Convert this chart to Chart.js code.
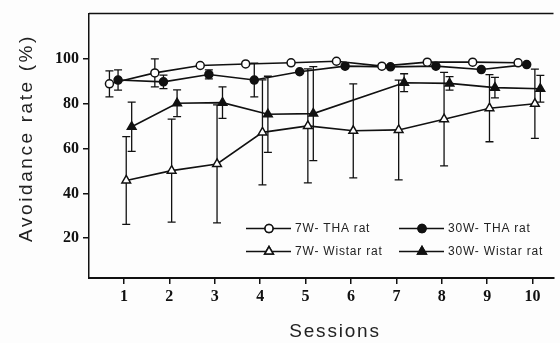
<!DOCTYPE html>
<html>
<head>
<meta charset="utf-8">
<script src="https://cdn.jsdelivr.net/npm/chart.js@4"></script>
<style>
  html, body { margin: 0; padding: 0; background: #fdfdfd; }
  #box { width: 560px; height: 343px; }
</style>
</head>
<body>
<div id="box"><canvas id="graphique"></canvas></div>
<script>
// Données
const sessions = [1, 2, 3, 4, 5, 6, 7, 8, 9, 10];
const yTicks = [20, 40, 60, 80, 100];

const tha7 = [89.0, 93.9, 97.2, 97.9, 98.4, 99.1, 96.9, 98.7, 98.7, 98.4];
const tha7Err = [5.8, 6.3, 0, 0, 0, 0, 0, 0, 0, 0];
const tha30 = [90.7, 89.9, 93.2, 90.7, 94.4, 96.9, 96.6, 96.9, 95.4, 97.6];
const tha30Err = [4.5, 3.0, 2.0, 7.5, 0, 0, 0, 0, 0, 0];
const wistar7 = [45.8, 50.2, 53.2, 67.3, 70.2, 68.0, 68.4, 73.2, 78.1, 80.1];
const wistar7Err = [19.6, 23.0, 26.4, 23.5, 25.5, 21.0, 22.3, 20.9, 15.0, 15.5];
const wistar30 = [69.8, 80.3, 80.6, 75.4, 75.7, null, 89.5, 89.2, 87.3, 86.8];
const wistar30Err = [11.0, 6.0, 7.0, 17.0, 21.0, 0, 4.0, 3.0, 4.6, 6.0];

const noir = '#111';

// petit décalage horizontal de chaque série (comme sur la figure)
function serie(label, valeurs, erreurs, decalage, style, plein) {
  return {
    label: label,
    data: sessions.map((s, i) => ({ x: s + decalage, y: valeurs[i] })),
    erreurs: erreurs,
    borderColor: noir,
    borderWidth: 1.6,
    pointStyle: style,
    pointRadius: style === 'triangle' ? 5 : 4,
    pointBorderWidth: 1.5,
    pointBorderColor: noir,
    pointBackgroundColor: plein ? noir : '#fff',
    spanGaps: true,
    tension: 0,
  };
}

const datasets = [
  serie('7W- THA rat', tha7, tha7Err, -0.32, 'circle', false),
  serie('30W- THA rat', tha30, tha30Err, -0.13, 'circle', true),
  serie('7W- Wistar rat', wistar7, wistar7Err, 0.05, 'triangle', false),
  serie('30W- Wistar rat', wistar30, wistar30Err, 0.17, 'triangle', true),
];

// Barres d'erreur + cadre du haut
const barresErreur = {
  id: 'barresErreur',
  beforeDatasetsDraw(chart) {
    const ctx = chart.ctx;
    const xs = chart.scales.x, ys = chart.scales.y;
    const area = chart.chartArea;
    ctx.save();
    ctx.strokeStyle = noir;
    ctx.lineWidth = 1.5;
    ctx.beginPath();
    ctx.moveTo(area.left, area.top);
    ctx.lineTo(area.right, area.top);
    ctx.stroke();
    ctx.lineWidth = 1.3;
    chart.data.datasets.forEach(ds => {
      ds.data.forEach((p, i) => {
        const e = ds.erreurs[i];
        if (p.y === null || !e) return;
        const x = xs.getPixelForValue(p.x);
        const y1 = ys.getPixelForValue(p.y + e);
        const y2 = ys.getPixelForValue(p.y - e);
        ctx.beginPath();
        ctx.moveTo(x, y1); ctx.lineTo(x, y2);
        ctx.moveTo(x - 4, y1); ctx.lineTo(x + 4, y1);
        ctx.moveTo(x - 4, y2); ctx.lineTo(x + 4, y2);
        ctx.stroke();
      });
    });
    ctx.restore();
  }
};

// Légende dans le graphique + titres des axes
const legendeEtTitres = {
  id: 'legendeEtTitres',
  afterDraw(chart) {
    const ctx = chart.ctx;
    const area = chart.chartArea;
    ctx.save();
    const colonnes = [area.left + 157, area.left + 310];
    const lignes = [area.top + 215, area.top + 238];
    chart.data.datasets.forEach((ds, i) => {
      const x0 = colonnes[i % 2];
      const y = lignes[Math.floor(i / 2)];
      ctx.strokeStyle = noir;
      ctx.lineWidth = 1.5;
      ctx.beginPath();
      ctx.moveTo(x0, y); ctx.lineTo(x0 + 45, y);
      ctx.stroke();
      Chart.helpers.drawPoint(ctx, {
        pointStyle: ds.pointStyle,
        radius: ds.pointRadius,
        borderWidth: 1.5,
      }, x0 + 23, y);
      ctx.fillStyle = ds.pointBackgroundColor;
      ctx.fill();
      ctx.stroke();
      ctx.fillStyle = '#222';
      ctx.font = '12px "Liberation Sans", Arial, sans-serif';
      ctx.letterSpacing = '0.8px';
      ctx.textAlign = 'left';
      ctx.textBaseline = 'middle';
      ctx.fillText(ds.label, x0 + 49, y);
    });

    ctx.fillStyle = '#222';
    ctx.font = '19px "Liberation Sans", Arial, sans-serif';
    ctx.letterSpacing = '2.6px';
    ctx.textAlign = 'center';
    ctx.textBaseline = 'middle';
    ctx.save();
    ctx.translate(27, 138);
    ctx.rotate(-Math.PI / 2);
    ctx.fillText('Avoidance rate (%)', 0, 0);
    ctx.restore();
    ctx.letterSpacing = '1.8px';
    ctx.fillText('Sessions', 335, 332);
    ctx.restore();
  }
};

const policeGraduation = { family: '"Liberation Serif", "Times New Roman", serif', size: 16, weight: 'bold' };

new Chart(document.getElementById('graphique'), {
  type: 'line',
  data: { datasets: datasets },
  options: {
    responsive: true,
    maintainAspectRatio: false,
    animation: false,
    layout: { padding: { top: 12, right: 0, left: 0, bottom: 0 } },
    plugins: { legend: { display: false }, tooltip: { enabled: false } },
    scales: {
      x: {
        type: 'linear',
        min: 0.23,
        max: 10.46,
        afterBuildTicks: axe => { axe.ticks = sessions.map(v => ({ value: v })); },
        afterFit: axe => { axe.height = 65; },
        grid: { drawOnChartArea: false, drawTicks: true, tickLength: 6, color: noir, lineWidth: 1.5 },
        border: { color: noir, width: 2 },
        ticks: { font: policeGraduation, color: '#111', padding: 3, maxRotation: 0 },
      },
      y: {
        min: 2.2,
        max: 120.4,
        afterBuildTicks: axe => { axe.ticks = yTicks.map(v => ({ value: v })); },
        afterFit: axe => { axe.width = 89; },
        grid: { drawOnChartArea: false, drawTicks: true, tickLength: 6, color: noir, lineWidth: 1.5 },
        border: { color: noir, width: 1.5 },
        ticks: { font: policeGraduation, color: '#111', padding: 4 },
      },
    },
  },
  plugins: [barresErreur, legendeEtTitres],
});
</script>
</body>
</html>
